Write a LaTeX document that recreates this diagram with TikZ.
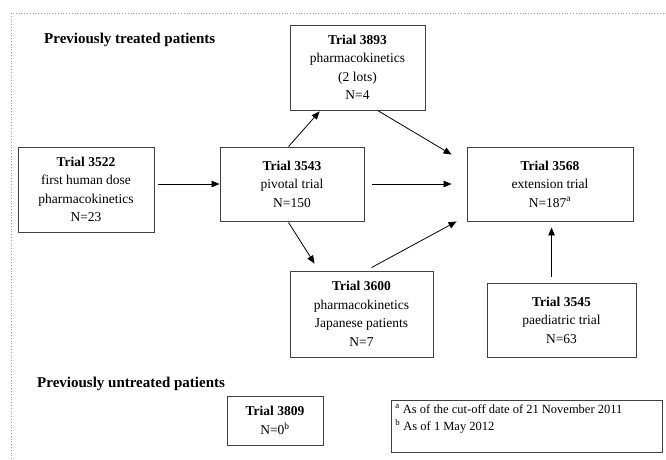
\documentclass[tikz,border=0pt]{standalone}
\usepackage{fontspec}
\setmainfont{Liberation Serif}
\usetikzlibrary{arrows.meta}
\definecolor{boxgray}{HTML}{404040}
\definecolor{framegray}{HTML}{9A9A9A}
\begin{document}
\begin{tikzpicture}[x=1pt,y=-1pt,
  trialbox/.style={draw=boxgray, line width=0.9pt, inner sep=0pt, align=center,
    font=\fontsize{13.5pt}{18.5pt}\selectfont, text=black},
  arr/.style={line width=0.8pt, -{Triangle[length=8pt,width=6.5pt]}},
  heading/.style={font=\fontsize{15pt}{18pt}\selectfont\bfseries, anchor=base west, inner sep=0pt}]
\useasboundingbox (0,0) rectangle (666,459);
\draw[framegray, dotted, line width=0.8pt] (11,459) -- (11,13) -- (666,13);

\node[heading] (h1) at (44,43) {Previously treated patients};
\node[heading] (h2) at (37,387) {Previously untreated patients};

\node[trialbox, minimum width=135pt, minimum height=85pt] (b3893) at (357.5,67.5)
  {\textbf{Trial 3893}\\pharmacokinetics\\(2 lots)\\N=4};
\node[trialbox, minimum width=136pt, minimum height=85pt] (b3522) at (86,189.5)
  {\textbf{Trial 3522}\\first human dose\\pharmacokinetics\\N=23};
\node[trialbox, minimum width=144pt, minimum height=74pt] (b3543) at (292,184)
  {\textbf{Trial 3543}\\pivotal trial\\N=150};
\node[trialbox, minimum width=166pt, minimum height=74pt] (b3568) at (550,184)
  {\textbf{Trial 3568}\\extension trial\\N=187\textsuperscript{a}};
\node[trialbox, minimum width=143pt, minimum height=86pt] (b3600) at (361.5,314)
  {\textbf{Trial 3600}\\pharmacokinetics\\Japanese patients\\N=7};
\node[trialbox, minimum width=149pt, minimum height=74pt] (b3545) at (561.5,320)
  {\textbf{Trial 3545}\\paediatric trial\\N=63};
\node[trialbox, minimum width=96pt, minimum height=49pt] (b3809) at (275,420.5)
  {\textbf{Trial 3809}\\N=0\textsuperscript{b}};
\node[draw=boxgray, line width=0.9pt, inner xsep=4pt, inner ysep=4pt, anchor=north west,
  font=\fontsize{12.5pt}{17pt}\selectfont] (fn) at (391,400)
  {\parbox[t][44pt][t]{263pt}{\textsuperscript{a} As of the cut-off date of 21 November 2011\\
   \textsuperscript{b} As of 1 May 2012}};

\draw[arr] ([xshift=4pt]b3522.east |- b3543.west) -- (b3543.west);
\draw[arr] ([xshift=69pt]b3543.north west) -- ([xshift=30pt,yshift=-1pt]b3893.south west);
\draw[arr] ([xshift=88pt]b3893.south west) -- ([xshift=-15pt,yshift=-8pt]b3568.north west);
\draw[arr] ([xshift=8pt]b3543.east) -- ([xshift=-15pt]b3568.west);
\draw[arr] ([xshift=69pt,yshift=-1pt]b3543.south west) -- ([xshift=25pt,yshift=7pt]b3600.north west);
\draw[arr] ([xshift=82pt,yshift=3pt]b3600.north west) -- ([xshift=-10pt]b3568.south west);
\draw[arr] ([xshift=65pt,yshift=6pt]b3545.north west) -- ([xshift=85pt,yshift=-6pt]b3568.south west);
\end{tikzpicture}
\end{document}
